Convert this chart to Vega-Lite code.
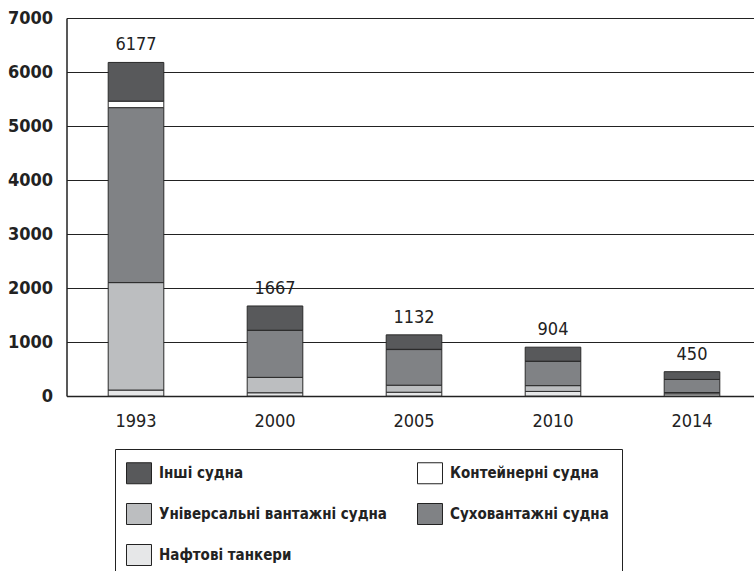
{
  "$schema": "https://vega.github.io/schema/vega-lite/v6.json",
  "width": 688,
  "height": 378,
  "autosize": {"type": "none"},
  "padding": {"left": 66.5, "top": 18, "right": 0, "bottom": 175},
  "background": "white",
  "config": {
    "font": "DejaVu Sans Condensed",
    "view": {"stroke": null}
  },
  "data": {
    "values": [
      {"year": "1993", "type": "Нафтові танкери", "value": 110},
      {"year": "1993", "type": "Універсальні вантажні судна", "value": 1990},
      {"year": "1993", "type": "Суховантажні судна", "value": 3240},
      {"year": "1993", "type": "Контейнерні судна", "value": 120},
      {"year": "1993", "type": "Інші судна", "value": 717},
      {"year": "2000", "type": "Нафтові танкери", "value": 60},
      {"year": "2000", "type": "Універсальні вантажні судна", "value": 285},
      {"year": "2000", "type": "Суховантажні судна", "value": 870},
      {"year": "2000", "type": "Контейнерні судна", "value": 3},
      {"year": "2000", "type": "Інші судна", "value": 449},
      {"year": "2005", "type": "Нафтові танкери", "value": 70},
      {"year": "2005", "type": "Універсальні вантажні судна", "value": 130},
      {"year": "2005", "type": "Суховантажні судна", "value": 660},
      {"year": "2005", "type": "Контейнерні судна", "value": 5},
      {"year": "2005", "type": "Інші судна", "value": 267},
      {"year": "2010", "type": "Нафтові танкери", "value": 85},
      {"year": "2010", "type": "Універсальні вантажні судна", "value": 107},
      {"year": "2010", "type": "Суховантажні судна", "value": 450},
      {"year": "2010", "type": "Контейнерні судна", "value": 3},
      {"year": "2010", "type": "Інші судна", "value": 259},
      {"year": "2014", "type": "Нафтові танкери", "value": 40},
      {"year": "2014", "type": "Універсальні вантажні судна", "value": 24},
      {"year": "2014", "type": "Суховантажні судна", "value": 243},
      {"year": "2014", "type": "Контейнерні судна", "value": 0},
      {"year": "2014", "type": "Інші судна", "value": 143}
    ]
  },
  "encoding": {
    "x": {
      "field": "year", "type": "nominal",
      "scale": {"paddingInner": 0.6, "paddingOuter": 0.3, "rangeMax": 695},
      "axis": {
        "title": null, "labelAngle": 0, "ticks": false, "domain": true,
        "domainColor": "#222", "domainWidth": 1.5,
        "labelFontSize": 18,
        "labelColor": "#222", "labelPadding": 16
      }
    }
  },
  "layer": [
    {
      "transform": [
        {"calculate": "indexof(['Нафтові танкери','Універсальні вантажні судна','Суховантажні судна','Контейнерні судна','Інші судна'], datum.type)", "as": "stackOrder"}
      ],
      "mark": {"type": "bar", "stroke": "#2a2a2a", "strokeWidth": 1},
      "encoding": {
        "y": {
          "field": "value", "type": "quantitative", "aggregate": "sum",
          "stack": "zero",
          "scale": {"domain": [0, 7000], "nice": false},
          "axis": {
            "title": null, "values": [0, 1000, 2000, 3000, 4000, 5000, 6000, 7000],
            "format": "d",
            "grid": true, "gridColor": "#222", "gridWidth": 1.2,
            "ticks": false, "domain": true, "domainColor": "#222", "domainWidth": 1.5,
            "labelFontSize": 18, "labelFontWeight": "bold",
            "labelColor": "#222", "labelPadding": 14
          }
        },
        "order": {"field": "stackOrder", "type": "quantitative", "sort": "ascending"},
        "color": {
          "field": "type", "type": "nominal",
          "scale": {
            "domain": ["Інші судна", "Контейнерні судна", "Універсальні вантажні судна", "Суховантажні судна", "Нафтові танкери"],
            "range": ["#58595b", "#ffffff", "#bcbec0", "#808285", "#e6e7e8"]
          },
          "legend": {
            "title": null, "orient": "none", "legendX": 48.5, "legendY": 431,
            "direction": "horizontal", "columns": 2,
            "columnPadding": 28, "rowPadding": 15,
            "padding": 13, "strokeColor": "#222", "fillColor": "white",
            "symbolType": "M-1.19,-1H1.19V1H-1.19Z", "symbolSize": 441,
            "symbolStrokeColor": "#222", "symbolStrokeWidth": 1,
            "labelFontSize": 15, "labelFontWeight": "bold",
            "labelColor": "#222", "labelOffset": 9, "labelLimit": 400
          }
        }
      }
    },
    {
      "transform": [
        {"aggregate": [{"op": "sum", "field": "value", "as": "total"}], "groupby": ["year"]}
      ],
      "mark": {"type": "text", "baseline": "bottom", "dy": -8, "fontSize": 18, "color": "#222"},
      "encoding": {
        "y": {"field": "total", "type": "quantitative"},
        "text": {"field": "total", "type": "quantitative"}
      }
    }
  ]
}
